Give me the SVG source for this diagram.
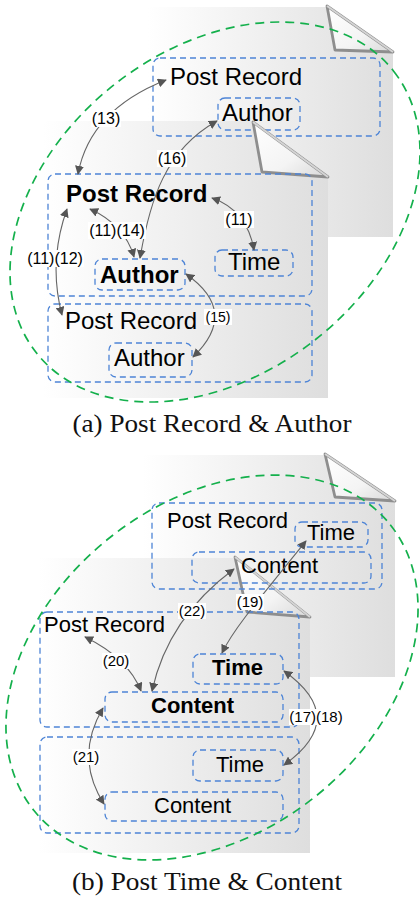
<svg xmlns="http://www.w3.org/2000/svg" width="420" height="901" viewBox="0 0 420 901">
<defs>
<linearGradient id="pg" x1="0" y1="0" x2="1" y2="0">
<stop offset="0" stop-color="#ffffff"/>
<stop offset="1" stop-color="#dedede"/>
</linearGradient>
<linearGradient id="flap" x1="0" y1="0" x2="1" y2="1">
<stop offset="0" stop-color="#ffffff"/>
<stop offset="0.6" stop-color="#f4f4f4"/>
<stop offset="1" stop-color="#d8d8d8"/>
</linearGradient>
<marker id="ah" viewBox="0 0 10 10" refX="9" refY="5" markerWidth="9" markerHeight="9" markerUnits="userSpaceOnUse" orient="auto-start-reverse">
<path d="M0,0 L10,5 L0,10 z" fill="#555"/>
</marker>
<style>
.page{fill:url(#pg)}
.flap{fill:url(#flap);stroke:#8e8e8e;stroke-width:2.8;stroke-linejoin:round}
.diag{stroke:#d4d4d4;stroke-width:2;fill:none}
.box{fill:none;stroke:#4d84d6;stroke-width:1.3;stroke-dasharray:6 4}
.t{font-family:"Liberation Sans",Arial,sans-serif;fill:#000}
.ta{font-size:24px}
.tb{font-size:22px}
.bold{font-weight:bold}
.ell{fill:none;stroke:#14b04c;stroke-width:1.7;stroke-dasharray:9 6}
.c{fill:none;stroke:#666;stroke-width:1.1;marker-start:url(#ah);marker-end:url(#ah)}
.lb{fill:#fff}
.lt{font-family:"Liberation Sans",Arial,sans-serif;fill:#000;text-anchor:middle}
.cap{font-family:"Liberation Serif","Times New Roman",serif;fill:#111;text-anchor:middle;font-size:25px}
</style>
</defs>
<rect width="420" height="901" fill="#fff"/>

<!-- Panel (a) -->
<g id="a-back-page">
<polygon class="page" points="148,7 327,7 393,52 393,237 148,237"/>
<polygon class="flap" points="327,6 335,50 393,52"/>
<line class="diag" x1="327" y1="6" x2="393" y2="52"/>
</g>
<g id="a-front-page">
<polygon class="page" points="43,121 253,121 328,177 328,398 43,398"/>
</g>
<g id="a-back-record">
<rect class="box" x="153" y="58" width="227" height="78" rx="7"/>
<text class="t ta" x="170" y="85">Post Record</text>
</g>
<g id="a-back-author">
<rect class="box" x="218" y="98" width="82" height="32" rx="7"/>
<text class="t ta" x="222" y="121">Author</text>
</g>
<g id="a-front-flap">
<polygon class="flap" points="253,122 262,172 328,177"/>
<line class="diag" x1="253" y1="122" x2="328" y2="177"/>
</g>
<g id="a-record-1">
<rect class="box" x="48" y="174" width="264" height="122" rx="7"/>
<text class="t ta bold" x="66" y="202">Post Record</text>
</g>
<g id="a-author-1">
<rect class="box" x="95" y="259" width="90" height="31" rx="7"/>
<text class="t ta bold" x="100" y="283">Author</text>
</g>
<g id="a-time-1">
<rect class="box" x="215" y="250" width="78" height="26" rx="7"/>
<text class="t ta" x="228" y="270">Time</text>
</g>
<g id="a-record-2">
<rect class="box" x="48" y="304" width="264" height="78" rx="7"/>
<text class="t ta" x="65" y="329">Post Record</text>
</g>
<g id="a-author-2">
<rect class="box" x="109" y="343" width="83" height="34" rx="7"/>
<text class="t ta" x="114" y="366">Author</text>
</g>

<g id="a-connectors">
<path class="c" d="M78,174 Q90,110 166,80"/>
<path class="c" d="M140,258 C150,200 165,150 217,121"/>
<path class="c" d="M212,198 Q247,210 254,250"/>
<path class="c" d="M90,209 Q125,225 134,257"/>
<path class="c" d="M67,209 Q48,262 62,315"/>
<path class="c" d="M186,274 Q240,312 193,357"/>
<rect class="lb" x="91" y="110" width="30" height="17"/>
<text class="lt" x="106" y="124" font-size="16">(13)</text>
<rect class="lb" x="157" y="150" width="30" height="17"/>
<text class="lt" x="172" y="164" font-size="16">(16)</text>
<rect class="lb" x="224" y="211" width="30" height="17"/>
<text class="lt" x="239" y="225" font-size="16">(11)</text>
<rect class="lb" x="88" y="222" width="58" height="17"/>
<text class="lt" x="117" y="236" font-size="16">(11)(14)</text>
<rect class="lb" x="26" y="250" width="58" height="17"/>
<text class="lt" x="55" y="264" font-size="16">(11)(12)</text>
<rect class="lb" x="204" y="309" width="28" height="16"/>
<text class="lt" x="218" y="322" font-size="14">(15)</text>
</g>
<ellipse id="a-group" class="ell" cx="215" cy="212" rx="227.5" ry="162.4" transform="rotate(-38.25 215 212)"/>
<text class="cap" x="212" y="432" textLength="279" lengthAdjust="spacingAndGlyphs">(a) Post Record &amp; Author</text>

<!-- Panel (b) -->
<g id="b-back-page">
<polygon class="page" points="143,455 325,455 395,501 395,677 143,677"/>
<polygon class="flap" points="325,454 335,497 395,501"/>
<line class="diag" x1="325" y1="454" x2="395" y2="501"/>
</g>
<g id="b-front-page">
<polygon class="page" points="39,558 235,558 310,617 310,853 39,853"/>
<polygon class="flap" points="235,557 247,612 310,617"/>
<line class="diag" x1="235" y1="557" x2="310" y2="617"/>
</g>
<g id="b-back-record">
<rect class="box" x="152" y="503" width="230" height="86" rx="7"/>
<text class="t tb" x="167" y="528">Post Record</text>
</g>
<g id="b-back-time">
<rect class="box" x="295" y="522" width="73" height="25" rx="7"/>
<text class="t tb" x="307" y="540">Time</text>
</g>
<g id="b-back-content">
<rect class="box" x="192" y="552" width="179" height="31" rx="7"/>
<text class="t tb" x="241" y="573">Content</text>
</g>
<g id="b-record-1">
<rect class="box" x="40" y="612" width="259" height="115" rx="7"/>
<text class="t tb" x="44" y="632">Post Record</text>
</g>
<g id="b-time-1">
<rect class="box" x="193" y="654" width="90" height="30" rx="7"/>
<text class="t tb bold" x="212" y="675">Time</text>
</g>
<g id="b-content-1">
<rect class="box" x="105" y="692" width="178" height="30" rx="7"/>
<text class="t tb bold" x="151" y="713">Content</text>
</g>
<g id="b-record-2">
<rect class="box" x="40" y="737" width="259" height="96" rx="7"/>
</g>
<g id="b-time-2">
<rect class="box" x="193" y="750" width="90" height="31" rx="7"/>
<text class="t tb" x="216" y="772">Time</text>
</g>
<g id="b-content-2">
<rect class="box" x="105" y="792" width="178" height="29" rx="7"/>
<text class="t tb" x="154" y="813">Content</text>
</g>

<g id="b-connectors">
<path class="c" d="M152,691 Q168,618 234,569"/>
<path class="c" d="M222,653 C232,632 250,610 306,541"/>
<path class="c" d="M85,637 Q128,658 141,691"/>
<path class="c" d="M103,708 Q74,757 104,804"/>
<path class="c" d="M284,671 Q350,718 284,765"/>
<rect class="lb" x="178" y="603" width="28" height="16"/>
<text class="lt" x="192" y="616" font-size="15">(22)</text>
<rect class="lb" x="236" y="594" width="28" height="16"/>
<text class="lt" x="250" y="607" font-size="15">(19)</text>
<rect class="lb" x="102" y="653" width="28" height="16"/>
<text class="lt" x="116" y="666" font-size="15">(20)</text>
<rect class="lb" x="72" y="749" width="28" height="16"/>
<text class="lt" x="86" y="762" font-size="15">(21)</text>
<rect class="lb" x="289" y="709" width="55" height="16"/>
<text class="lt" x="316" y="722" font-size="15">(17)(18)</text>
</g>
<ellipse id="b-group" class="ell" cx="212" cy="667.5" rx="228.4" ry="165.3" transform="rotate(-38.7 212 667.5)"/>
<text class="cap" x="207" y="890" textLength="270" lengthAdjust="spacingAndGlyphs">(b) Post Time &amp; Content</text>
</svg>
